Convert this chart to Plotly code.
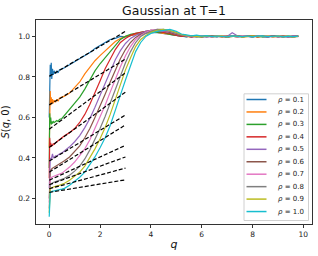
import plotly.graph_objects as go

# ---------------- data ----------------
q_values = [0.0, 0.02, 0.04, 0.06, 0.08, 0.10, 0.13, 0.16, 0.20, 0.25, 0.30, 0.35, 0.40,
            0.50, 0.60, 0.80, 1.00, 1.20, 1.40, 1.60, 1.80, 2.00, 2.20, 2.40, 2.60, 2.80,
            3.00, 3.20, 3.40, 3.60, 3.80, 4.00, 4.25, 4.50, 4.75, 5.00,
            5.2, 5.4, 5.6, 5.8, 6.0, 6.2, 6.4, 6.6, 6.8, 7.0, 7.2, 7.4, 7.6, 7.8,
            8.0, 8.2, 8.4, 8.6, 8.8, 9.0, 9.2, 9.4, 9.6, 9.8]

s_rho01 = [0.60, 0.78, 0.86, 0.80, 0.87, 0.79, 0.84, 0.81, 0.83, 0.815, 0.83, 0.82, 0.835, 0.84, 0.845, 0.86, 0.875, 0.89, 0.905, 0.92, 0.94, 0.955, 0.972, 0.985, 0.99, 1.0, 0.998, 1.005, 1.01, 1.012, 1.016, 1.02, 1.018, 1.015, 1.01, 1.005,
           1.002, 0.998, 1.004, 1.0, 0.997, 1.003, 1.001, 0.998, 1.004, 0.999, 1.002, 0.997, 1.003, 1.0, 0.998, 1.002, 1.001, 0.997, 1.003, 0.999, 1.001, 0.998, 1.002, 1.0]
s_rho02 = [0.45, 0.70, 0.73, 0.66, 0.70, 0.665, 0.69, 0.67, 0.685, 0.675, 0.69, 0.68, 0.695, 0.70, 0.705, 0.72, 0.745, 0.775, 0.815, 0.85, 0.88, 0.905, 0.93, 0.955, 0.975, 0.99, 1.0, 1.005, 1.01, 1.015, 1.02, 1.02, 1.02, 1.015, 1.01, 1.005,
           1.004, 1.0, 0.996, 1.002, 0.998, 1.003, 0.999, 1.001, 0.997, 1.004, 1.0, 0.998, 1.002, 0.999, 1.003, 0.997, 1.001, 1.002, 0.998, 1.0, 1.003, 0.999, 0.998, 1.001]
s_rho03 = [0.35, 0.62, 0.57, 0.60, 0.565, 0.58, 0.57, 0.58, 0.575, 0.58, 0.585, 0.58, 0.59, 0.595, 0.61, 0.635, 0.665, 0.70, 0.74, 0.785, 0.83, 0.865, 0.895, 0.93, 0.96, 0.985, 1.0, 1.01, 1.015, 1.02, 1.025, 1.025, 1.02, 1.02, 1.01, 1.005,
           1.003, 0.999, 1.002, 0.997, 1.001, 1.004, 0.998, 1.0, 1.002, 0.997, 1.003, 1.0, 0.998, 1.001, 0.999, 1.003, 0.996, 1.001, 0.999, 1.002, 0.998, 1.0, 0.997, 1.001]
s_rho04 = [0.30, 0.50, 0.46, 0.475, 0.455, 0.465, 0.46, 0.47, 0.468, 0.475, 0.48, 0.483, 0.49, 0.50, 0.51, 0.525, 0.545, 0.575, 0.615, 0.665, 0.72, 0.78, 0.84, 0.89, 0.935, 0.97, 0.99, 1.005, 1.015, 1.02, 1.025, 1.03, 1.025, 1.02, 1.015, 1.005,
           1.0, 1.004, 0.997, 1.001, 0.999, 1.003, 0.998, 1.002, 1.0, 0.997, 1.002, 1.004, 0.998, 1.0, 1.002, 0.998, 1.001, 0.999, 1.003, 0.998, 1.001, 0.999, 1.002, 1.0]
s_rho05 = [0.25, 0.36, 0.39, 0.40, 0.39, 0.405, 0.42, 0.40, 0.405, 0.41, 0.41, 0.415, 0.42, 0.425, 0.435, 0.455, 0.48, 0.51, 0.55, 0.595, 0.65, 0.71, 0.77, 0.83, 0.885, 0.93, 0.965, 0.99, 1.005, 1.015, 1.025, 1.03, 1.03, 1.025, 1.02, 1.01,
           1.005, 1.001, 0.998, 1.003, 1.0, 0.997, 1.002, 0.999, 1.004, 1.0, 1.018, 1.003, 0.998, 1.002, 0.999, 1.003, 1.0, 0.997, 1.002, 0.998, 1.001, 0.996, 1.003, 0.999]
s_rho06 = [0.20, 0.31, 0.335, 0.34, 0.345, 0.345, 0.35, 0.352, 0.355, 0.36, 0.363, 0.367, 0.37, 0.378, 0.386, 0.405, 0.43, 0.46, 0.50, 0.545, 0.60, 0.655, 0.715, 0.775, 0.835, 0.89, 0.935, 0.97, 0.995, 1.01, 1.02, 1.03, 1.03, 1.03, 1.02, 1.01,
           1.006, 1.002, 0.999, 1.003, 0.998, 1.001, 1.004, 0.999, 1.002, 0.997, 1.001, 1.003, 0.999, 1.0, 1.004, 0.998, 1.001, 0.999, 1.002, 1.0, 0.997, 1.002, 0.999, 1.001]
s_rho07 = [0.18, 0.28, 0.30, 0.305, 0.30, 0.305, 0.307, 0.309, 0.311, 0.313, 0.316, 0.318, 0.32, 0.325, 0.335, 0.355, 0.38, 0.41, 0.445, 0.49, 0.545, 0.60, 0.66, 0.725, 0.79, 0.85, 0.905, 0.95, 0.985, 1.005, 1.02, 1.03, 1.035, 1.03, 1.025, 1.015,
           1.008, 1.003, 1.0, 0.998, 1.003, 1.0, 0.997, 1.002, 1.004, 0.999, 1.001, 0.998, 1.003, 1.0, 0.998, 1.002, 0.999, 1.003, 0.997, 1.001, 0.999, 1.002, 0.998, 1.0]
s_rho08 = [0.15, 0.25, 0.27, 0.272, 0.274, 0.275, 0.277, 0.279, 0.281, 0.283, 0.285, 0.287, 0.29, 0.295, 0.30, 0.315, 0.335, 0.36, 0.395, 0.44, 0.49, 0.545, 0.605, 0.67, 0.74, 0.81, 0.87, 0.925, 0.97, 1.0, 1.015, 1.025, 1.035, 1.035, 1.025, 1.015,
           1.008, 1.004, 1.001, 0.999, 1.002, 0.998, 1.003, 1.0, 0.998, 1.002, 1.0, 1.003, 0.999, 1.001, 0.997, 1.002, 1.0, 0.998, 1.003, 0.999, 1.001, 1.0, 0.998, 1.002]
s_rho09 = [0.13, 0.23, 0.25, 0.252, 0.253, 0.255, 0.256, 0.257, 0.258, 0.26, 0.262, 0.263, 0.265, 0.27, 0.275, 0.29, 0.31, 0.33, 0.36, 0.40, 0.445, 0.495, 0.55, 0.615, 0.69, 0.765, 0.835, 0.895, 0.95, 0.985, 1.005, 1.02, 1.03, 1.035, 1.03, 1.02,
           1.01, 1.005, 1.002, 1.0, 0.998, 1.003, 0.999, 1.001, 1.003, 0.998, 1.0, 1.002, 0.997, 1.001, 1.003, 0.999, 1.0, 1.002, 0.998, 1.001, 0.999, 1.003, 0.998, 1.0]
s_rho10 = [0.11, 0.20, 0.225, 0.232, 0.234, 0.235, 0.236, 0.236, 0.237, 0.238, 0.239, 0.24, 0.242, 0.246, 0.25, 0.265, 0.285, 0.305, 0.33, 0.365, 0.405, 0.45, 0.50, 0.56, 0.63, 0.71, 0.785, 0.86, 0.925, 0.97, 1.0, 1.015, 1.025, 1.03, 1.035, 1.025,
           1.012, 1.008, 1.003, 1.006, 1.001, 1.004, 0.999, 1.002, 1.0, 0.998, 1.003, 1.0, 0.999, 1.002, 0.998, 1.001, 1.003, 0.999, 1.0, 1.002, 0.998, 1.001, 0.999, 1.001]

series_values = [s_rho01, s_rho02, s_rho03, s_rho04, s_rho05,
                 s_rho06, s_rho07, s_rho08, s_rho09, s_rho10]
rho_labels = ["0.1", "0.2", "0.3", "0.4", "0.5", "0.6", "0.7", "0.8", "0.9", "1.0"]

# linear fits (dashed), evaluated at q = 0 and q = 3
fit_q = [0.0, 3.0]
fit_start = [0.803, 0.662, 0.542, 0.452, 0.385, 0.330, 0.290, 0.268, 0.248, 0.230]
fit_end = [1.025, 0.888, 0.820, 0.725, 0.612, 0.563, 0.462, 0.405, 0.350, 0.292]

x_ticks = [0, 2, 4, 6, 8, 10]
y_ticks = [0.2, 0.4, 0.6, 0.8, 1.0]
y_tick_labels = ["0.2", "0.4", "0.6", "0.8", "1.0"]

# ---------------- style ----------------
colors = ["#1f77b4", "#ff7f0e", "#2ca02c", "#d62728", "#9467bd",
          "#8c564b", "#e377c2", "#7f7f7f", "#bcbd22", "#17becf"]
FONT = "DejaVu Sans"
W, H = 318, 256
ML, MR, MT, MB = 36, 6, 20, 31.5
plot_w = W - ML - MR
plot_h = H - MT - MB

fig = go.Figure()
for lab, col, s in zip(rho_labels, colors, series_values):
    fig.add_trace(go.Scatter(x=q_values, y=s, mode="lines", name="rho=" + lab,
                             line=dict(color=col, width=1.2), showlegend=False))
for a, b in zip(fit_start, fit_end):
    fig.add_trace(go.Scatter(x=fit_q, y=[a, b], mode="lines",
                             line=dict(color="black", width=1.2, dash="4px,2px"),
                             showlegend=False))

# ---- manual legend (matplotlib-like compact box) ----
def px_x(px):
    return (px - ML) / plot_w

def px_y(py):
    return (H - MB - py) / plot_h

shapes = [dict(type="rect", xref="paper", yref="paper",
               x0=px_x(244), x1=px_x(308.5), y0=px_y(221), y1=px_y(94),
               line=dict(color="#d0d0d0", width=1), fillcolor="rgba(255,255,255,0.8)",
               layer="above")]
annotations = []
for i, (lab, col) in enumerate(zip(rho_labels, colors)):
    yy = px_y(99.7 + 12.48 * i)
    shapes.append(dict(type="line", xref="paper", yref="paper",
                       x0=px_x(246.5), x1=px_x(266.5), y0=yy, y1=yy,
                       line=dict(color=col, width=1.5), layer="above"))
    annotations.append(dict(xref="paper", yref="paper", x=px_x(276), y=yy,
                            xanchor="left", yanchor="middle", showarrow=False,
                            text="<i>ρ</i> = " + lab,
                            font=dict(family=FONT, size=7, color="#222")))

axis_common = dict(showline=True, mirror=True, linecolor="#333", linewidth=0.8,
                   ticks="outside", ticklen=3.5, tickwidth=0.8, tickcolor="#333",
                   showgrid=False, zeroline=False, automargin=False,
                   tickfont=dict(family=FONT, size=7.5, color="#222"))

fig.update_layout(
    width=W, height=H,
    margin=dict(l=ML, r=MR, t=MT, b=MB, pad=0, autoexpand=False),
    paper_bgcolor="white", plot_bgcolor="white",
    title=dict(text="Gaussian at T=1", x=0.5, xref="paper", xanchor="center",
               y=1 - 10.5 / H, yref="container", yanchor="middle",
               font=dict(family=FONT, size=12.5, color="#111")),
    xaxis=dict(range=[-0.52, 10.34], tickvals=x_ticks,
               title=dict(text="<i>q</i>", standoff=1,
                          font=dict(family=FONT, size=11, color="#111")),
               **axis_common),
    yaxis=dict(range=[0.074, 1.081], tickvals=y_ticks, ticktext=y_tick_labels,
               title=dict(text="<i>S</i>(<i>q</i>, 0)", standoff=6,
                          font=dict(family=FONT, size=10, color="#111")),
               **axis_common),
    shapes=shapes,
    annotations=annotations,
    showlegend=False,
)

fig.write_html("out.html", config={"displayModeBar": False},
               post_script="document.body.style.margin='0';")
